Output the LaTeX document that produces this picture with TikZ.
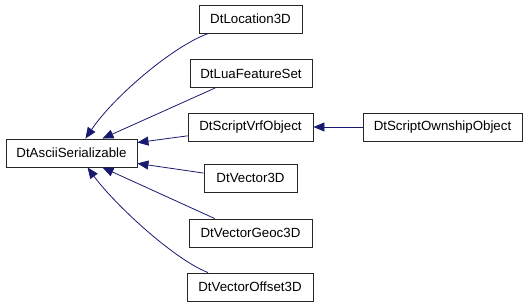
\documentclass[tikz,border=0pt]{standalone}
\usepackage{fontspec}
\setmainfont{Liberation Sans}
\usetikzlibrary{arrows.meta}
\definecolor{edgeblue}{HTML}{191970}
\tikzset{
  cls/.style={draw=black!85, fill=white, line width=0.9pt, minimum height=28pt,
    inner sep=0pt, font=\fontsize{13.3}{15}\selectfont},
  inh/.style={{Triangle[length=11pt,width=9pt]}-, draw=edgeblue, fill=none, line width=0.8pt}
}
\begin{document}
\begin{tikzpicture}[x=1pt,y=-1pt]
\useasboundingbox (0,0) rectangle (528,307);
\node[cls, minimum width=131pt] (asc) at (71.5,153) {DtAsciiSerializable};
\node[cls, minimum width=103pt] (loc) at (250.5,19) {DtLocation3D};
\node[cls, minimum width=122pt] (lua) at (251,73.5) {DtLuaFeatureSet};
\node[cls, minimum width=125pt] (vrf) at (250.5,127) {DtScriptVrfObject};
\node[cls, minimum width=93pt] (vec) at (250.5,178) {DtVector3D};
\node[cls, minimum width=123pt] (geoc) at (250.5,233) {DtVectorGeoc3D};
\node[cls, minimum width=126pt] (off) at (250,287) {DtVectorOffset3D};
\node[cls, minimum width=159pt] (own) at (442.5,127) {DtScriptOwnshipObject};
\draw[inh] (asc.46) .. controls (115,95) and (175,45) .. (loc.199);
\draw[inh] (asc.25) -- (lua.202);
\draw[inh] (asc.9) -- (vrf.188);
\draw[inh] (asc.-9) -- (vec.174);
\draw[inh] (asc.-25) -- (geoc.158);
\draw[inh] (asc.-42) .. controls (115,205) and (175,260) .. (off.161);
\draw[inh] (vrf.east) -- (own.west);
\end{tikzpicture}
\end{document}
